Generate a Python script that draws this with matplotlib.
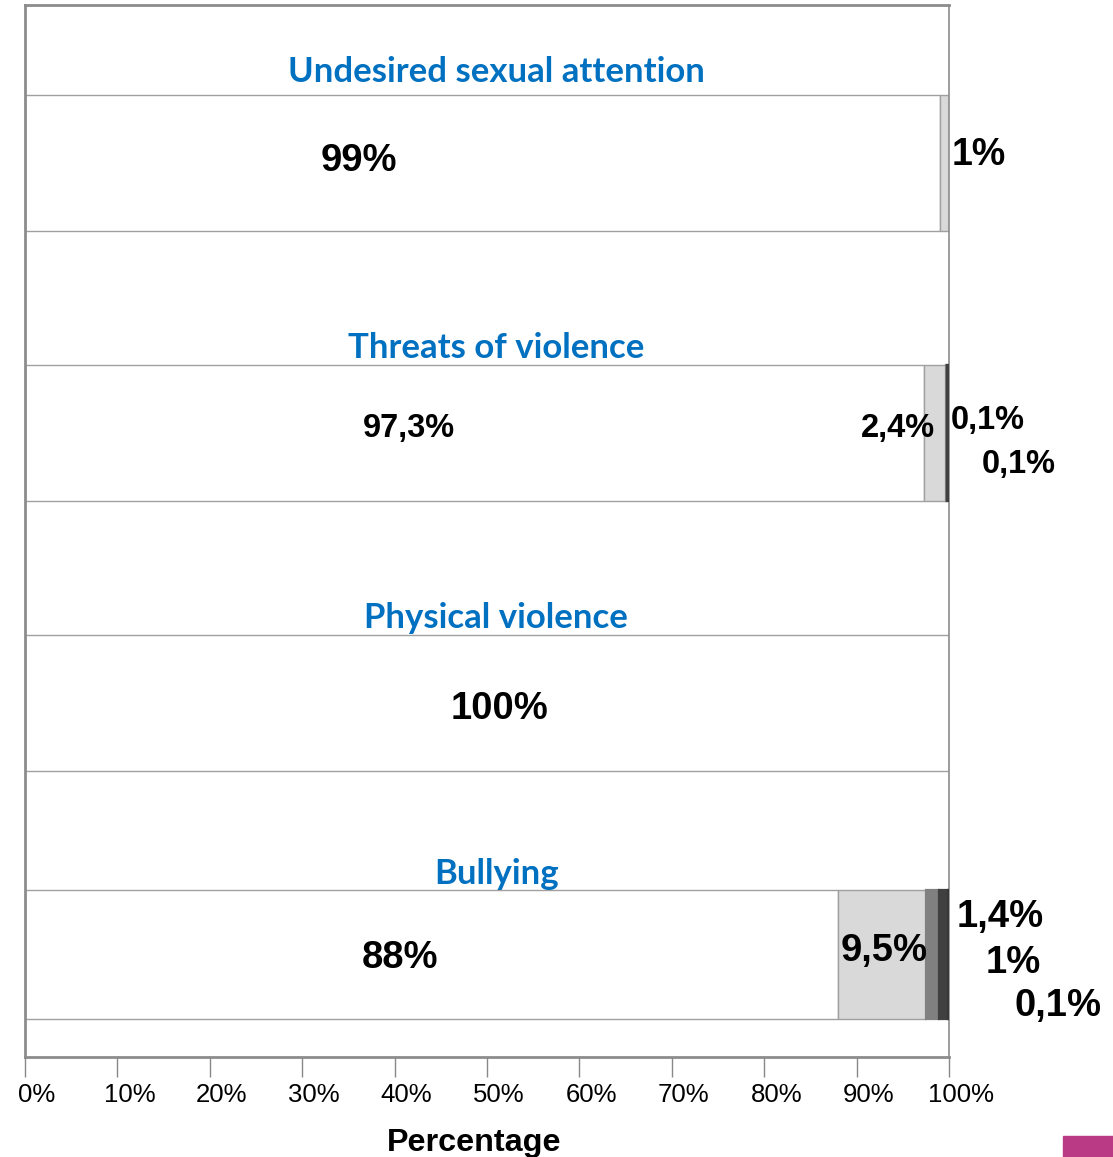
import matplotlib
matplotlib.use("Agg")
import matplotlib.pyplot as plt
from matplotlib.transforms import ScaledTranslation
from matplotlib.patches import Rectangle

# Survey results: share of answers per category (percent)
categories = ["Undesired sexual attention", "Threats of violence",
              "Physical violence", "Bullying"]
undesired_values = [99, 1]
threats_values = [97.3, 2.4, 0.1, 0.1]
physical_values = [100]
bullying_values = [88, 9.5, 1.4, 1, 0.1]
tick_values = [0, 10, 20, 30, 40, 50, 60, 70, 80, 90, 100]
tick_labels = ["0%", "10%", "20%", "30%", "40%", "50%", "60%", "70%",
               "80%", "90%", "100%"]

series = [undesired_values, threats_values, physical_values, bullying_values]

# layout -------------------------------------------------------------------
seg_colors = ["#ffffff", "#d9d9d9", "#808080", "#404040", "#383838"]
row_pos = [0, 1, 2, 2.93]
row_height = [0.505, 0.505, 0.505, 0.478]
# (x in %, y offset from row centre, font size) for each value label
label_layout = [
    [(36.1, -0.008, 27.5), (103.2, -0.03, 27)],
    [(41.5, -0.016, 23.5), (94.5, -0.016, 23.5), (104.2, -0.046, 23.5),
     (107.5, 0.117, 23.5)],
    [(51.3, 0.021, 27.5)],
    [(40.6, 0.014, 27.5), (93.0, -0.012, 27.5), (105.5, -0.138, 27.5),
     (106.9, 0.032, 27.5), (111.8, 0.191, 27.5)],
]
title_offset = [-0.337, -0.314, -0.314, -0.297]


def fmt(v):
    if float(v).is_integer():
        return f"{int(v)}%"
    return f"{v:.1f}".replace(".", ",") + "%"


fig = plt.figure(figsize=(11.13, 11.57), dpi=100)
ax = fig.add_axes([25 / 1113, 100 / 1157, 924 / 1113, 1052 / 1157])

for i, vals in enumerate(series):
    left = 0
    for j, v in enumerate(vals):
        small = j >= 2
        ax.barh(row_pos[i], v, left=left, height=row_height[i],
                color=seg_colors[j],
                edgecolor=seg_colors[j] if small else "#a0a0a0",
                linewidth=1.6 if small else 1.0, zorder=3 if small else 2)
        left += v
    for (lx, ly, fs), v in zip(label_layout[i], vals):
        ax.text(lx, row_pos[i] + ly, fmt(v), ha="center", va="center",
                fontsize=fs, fontweight="bold", family="Liberation Sans",
                color="black", clip_on=False, zorder=5)
    ax.text(51.0, row_pos[i] + title_offset[i], categories[i],
            ha="center", va="center", fontsize=25, fontweight="bold",
            family="Lato", color="#0070c0", zorder=5)

ax.set_xlim(0, 100)
ax.set_ylim(3.311, -0.585)
ax.set_yticks([])
ax.set_xticks(tick_values)
ax.set_xticklabels(tick_labels, family="Liberation Sans", fontsize=18.5)
ax.tick_params(axis="x", length=14.5, width=1, color="#888888", pad=4)
shift = ScaledTranslation(12 / 100, 0, fig.dpi_scale_trans)
for lab in ax.get_xticklabels():
    lab.set_transform(lab.get_transform() + shift)

for name, sp in ax.spines.items():
    sp.set_color("#8c8c8c")
    sp.set_linewidth(2.0 if name in ("left", "top", "bottom") else 1.2)

fig.text(474 / 1113, 1 - 1143 / 1157, "Percentage", ha="center",
         va="center", fontsize=23.3, fontweight="bold",
         family="Liberation Sans")

fig.patches.append(Rectangle((1063 / 1113, 0), 50 / 1113, 21 / 1157,
                             transform=fig.transFigure, color="#bb3a85"))

fig.savefig("out.png", dpi=100)
